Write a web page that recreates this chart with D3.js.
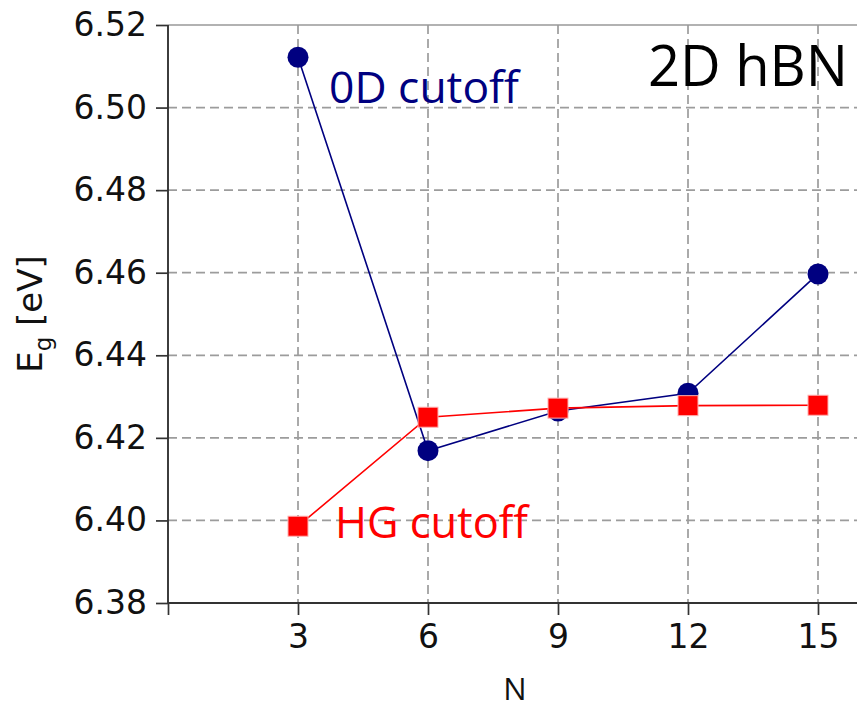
<!DOCTYPE html>
<html><head><meta charset="utf-8">
<script src="https://cdn.jsdelivr.net/npm/d3@7"></script>
<style>body{margin:0;background:#fff}svg{display:block}</style>
</head><body>
<script>
const N = [3, 6, 9, 12, 15];
const cutoff0D = [6.5122, 6.4169, 6.4265, 6.4308, 6.4597];
const cutoffHG = [6.3986, 6.4250, 6.4272, 6.4278, 6.4279];
const xTicks = [0, 3, 6, 9, 12, 15];
const yTicks = [6.38, 6.40, 6.42, 6.44, 6.46, 6.48, 6.50, 6.52];

const W = 857, H = 708;
const svg = d3.select("body").append("svg").attr("width", W).attr("height", H);
const x = d3.scaleLinear().domain([0, 15]).range([168, 818]);
const y = d3.scaleLinear().domain([6.38, 6.52]).range([603, 25]);
const right = 900;

// grid
const grid = svg.append("g").attr("stroke", "#9c9c9c").attr("stroke-width", 1.7).attr("stroke-dasharray", "9,5");
grid.selectAll("line.h").data(yTicks.slice(1, -1)).join("line")
  .attr("x1", x(0)).attr("x2", right).attr("y1", d => y(d)).attr("y2", d => y(d));
grid.selectAll("line.v").data(N).join("line").attr("class", "v")
  .attr("x1", d => x(d)).attr("x2", d => x(d)).attr("y1", y(6.52)).attr("y2", y(6.38));
svg.append("line").attr("x1", x(0)).attr("x2", right).attr("y1", y(6.52)).attr("y2", y(6.52))
  .attr("stroke", "#999").attr("stroke-width", 1.7);

// axes
const yAxis = svg.append("g").attr("transform", `translate(${x(0)},0)`)
  .call(d3.axisLeft(y).tickValues(yTicks).tickFormat(d3.format(".2f")).tickSize(12).tickPadding(9));
const xAxis = svg.append("g").attr("transform", `translate(0,${y(6.38)})`)
  .call(d3.axisBottom(x).tickValues(xTicks).tickFormat(d => d === 0 ? "" : d).tickSize(12).tickPadding(10));
[yAxis, xAxis].forEach(a => {
  a.select(".domain").remove();
  a.selectAll(".tick line").attr("stroke", "#333").attr("stroke-width", 1.7);
  a.selectAll("text").attr("fill", "#111").style("font-family", "DejaVu Sans").style("font-size", "33px");
});
xAxis.selectAll("text").attr("dy", "0.71em");
svg.append("line").attr("x1", x(0)).attr("x2", x(0)).attr("y1", y(6.52)).attr("y2", y(6.38))
  .attr("stroke", "#333").attr("stroke-width", 1.9);
svg.append("line").attr("x1", x(0)).attr("x2", right).attr("y1", y(6.38)).attr("y2", y(6.38))
  .attr("stroke", "#333").attr("stroke-width", 1.9);

// axis titles
const yl = svg.append("text").attr("transform", "translate(42,314) rotate(-90)")
  .attr("text-anchor", "middle").style("font-family", "DejaVu Sans").style("font-size", "34px").attr("fill", "#111");
yl.append("tspan").text("E");
yl.append("tspan").text("g").attr("dy", 9).style("font-size", "23px");
yl.append("tspan").text(" [eV]").attr("dy", -9);
svg.append("text").attr("x", 515).attr("y", 700).attr("text-anchor", "middle")
  .style("font-family", "Open Sans").style("font-size", "31px").attr("fill", "#111").text("N");

// series
const line = d3.line().x((d, i) => x(N[i])).y(d => y(d));
svg.append("path").datum(cutoff0D).attr("d", line).attr("fill", "none").attr("stroke", "#000080").attr("stroke-width", 1.6);
svg.selectAll("circle.od").data(cutoff0D).join("circle")
  .attr("cx", (d, i) => x(N[i])).attr("cy", d => y(d)).attr("r", 10.5).attr("fill", "#000080");
svg.append("path").datum(cutoffHG).attr("d", line).attr("fill", "none").attr("stroke", "#ff0000").attr("stroke-width", 1.6);
svg.selectAll("rect.hg").data(cutoffHG).join("rect")
  .attr("x", (d, i) => x(N[i]) - 10).attr("y", d => y(d) - 10).attr("width", 20).attr("height", 20)
  .attr("fill", "#ff0000").attr("stroke", "#ffb0b0").attr("stroke-width", 1);

// labels
svg.append("text").attr("x", 329).attr("y", 103).style("font-family", "Open Sans").style("font-size", "43px")
  .attr("fill", "#000080").attr("textLength", 190).attr("lengthAdjust", "spacingAndGlyphs").text("0D cutoff");
svg.append("text").attr("x", 335).attr("y", 538).style("font-family", "Open Sans").style("font-size", "43px")
  .attr("fill", "#ff0000").attr("textLength", 193).attr("lengthAdjust", "spacingAndGlyphs").text("HG cutoff");
svg.append("text").attr("x", 648).attr("y", 86).style("font-family", "Open Sans").style("font-size", "56px")
  .attr("fill", "#000").attr("textLength", 200).attr("lengthAdjust", "spacingAndGlyphs").text("2D hBN");
</script>
</body></html>
